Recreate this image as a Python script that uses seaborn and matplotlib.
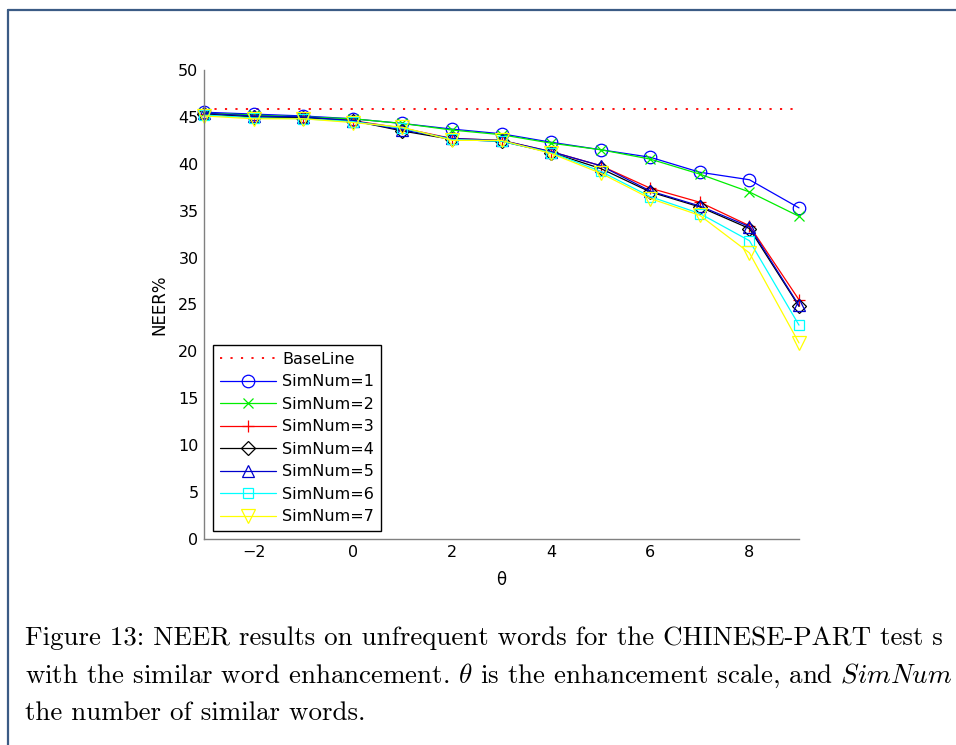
import matplotlib
matplotlib.use("Agg")
import matplotlib.pyplot as plt
from matplotlib.lines import Line2D
import seaborn as sns

# enhancement scale theta
theta = [-3, -2, -1, 0, 1, 2, 3, 4, 5, 6, 7, 8, 9]

# NEER% of the baseline system (no enhancement)
baseline = 45.8

# NEER% for each number of similar words
sim1 = [45.5, 45.3, 45.1, 44.8, 44.3, 43.7, 43.2, 42.3, 41.5, 40.7, 39.1, 38.3, 35.3]
sim2 = [45.4, 45.2, 45.0, 44.8, 44.3, 43.6, 43.1, 42.2, 41.5, 40.5, 38.9, 37.0, 34.4]
sim3 = [45.3, 45.0, 44.9, 44.6, 43.8, 42.7, 42.5, 41.3, 39.8, 37.4, 35.9, 33.4, 25.5]
sim4 = [45.3, 45.0, 44.9, 44.6, 43.5, 42.6, 42.4, 41.2, 39.5, 37.0, 35.4, 33.1, 24.8]
sim5 = [45.4, 45.1, 45.0, 44.6, 43.6, 42.7, 42.5, 41.3, 39.8, 37.1, 35.5, 33.3, 24.9]
sim6 = [45.2, 44.9, 44.8, 44.5, 43.8, 42.6, 42.4, 41.2, 39.2, 36.5, 34.7, 31.8, 22.8]
sim7 = [45.1, 44.8, 44.8, 44.4, 43.9, 42.5, 42.5, 41.1, 39.0, 36.3, 34.5, 30.5, 20.9]

series_labels = ["SimNum=1", "SimNum=2", "SimNum=3", "SimNum=4",
                 "SimNum=5", "SimNum=6", "SimNum=7"]
x_ticks = [-2, 0, 2, 4, 6, 8]
y_ticks = [0, 5, 10, 15, 20, 25, 30, 35, 40, 45, 50]

sns.set_style("white")
plt.rcParams["font.family"] = ["DejaVu Sans"]
plt.rcParams["mathtext.fontset"] = "cm"
for key in ("text.color", "axes.labelcolor", "xtick.labelcolor", "ytick.labelcolor"):
    plt.rcParams[key] = "black"

W, H = 956, 745
fig = plt.figure(figsize=(W / 100, H / 100), dpi=100)
ax = fig.add_axes([204 / W, 1 - 539 / H, (799 - 204) / W, (539 - 70) / H])

styles = [
    dict(color="#0000ff", marker="o", markersize=9),
    dict(color="#00ee00", marker="x", markersize=7),
    dict(color="#ff0000", marker="+", markersize=9),
    dict(color="#000000", marker="D", markersize=7),
    dict(color="#0000cc", marker="^", markersize=9),
    dict(color="#00ffff", marker="s", markersize=7),
    dict(color="#ffff00", marker="v", markersize=10),
]

sns.lineplot(x=theta, y=[baseline] * len(theta), ax=ax, color="#ff0000",
             linestyle=(0, (1.2, 4.6)), linewidth=1.3, label="BaseLine")

for vals, lab, st in zip([sim1, sim2, sim3, sim4, sim5, sim6, sim7],
                         series_labels, styles):
    sns.lineplot(x=theta, y=vals, ax=ax, color=st["color"], marker=st["marker"],
                 markersize=st["markersize"], markerfacecolor="none",
                 markeredgecolor=st["color"], markeredgewidth=0.9,
                 linewidth=0.9, label=lab, clip_on=False)

ax.set_xlim(-3, 9)
ax.set_ylim(0, 50)
ax.set_xticks(x_ticks)
ax.set_yticks(y_ticks)
for side in ("top", "right"):
    ax.spines[side].set_visible(False)
for side in ("left", "bottom"):
    ax.spines[side].set_color("#808080")
    ax.spines[side].set_linewidth(1.0)
ax.tick_params(direction="in", length=4, width=0.8, color="#808080",
               labelsize=11.5, pad=4, labelcolor="black")
ax.set_xlabel("θ", fontsize=12, labelpad=8)
ax.set_ylabel("NEER%", fontsize=12, labelpad=7)

leg = ax.legend(loc="lower left", bbox_to_anchor=(0.015, 0.017), borderaxespad=0,
                fontsize=11.5, handlelength=3.5, numpoints=1, labelspacing=0.47,
                handletextpad=0.4, borderpad=0.42, fancybox=False, framealpha=1)
leg.get_frame().set_edgecolor("black")
leg.get_frame().set_linewidth(1.0)

# page frame around the figure
fig.add_artist(Line2D([7.5 / W, 1], [1 - 9.5 / H, 1 - 9.5 / H], transform=fig.transFigure,
                      color="#3b5b85", linewidth=1.6))
fig.add_artist(Line2D([7.5 / W, 7.5 / W], [0, 1 - 9.5 / H], transform=fig.transFigure,
                      color="#3b5b85", linewidth=1.6))

caption = [
    "Figure 13: NEER results on unfrequent words for the CHINESE-PART test s",
    r"with the similar word enhancement. $\theta$ is the enhancement scale, and $SimNum$",
    "the number of similar words.",
]
for i, line in enumerate(caption):
    fig.text(25 / W, 1 - (645 + 37.5 * i) / H, line, family="cmr10", fontsize=19.4,
             ha="left", va="baseline")

fig.savefig("out.png", dpi=100)
